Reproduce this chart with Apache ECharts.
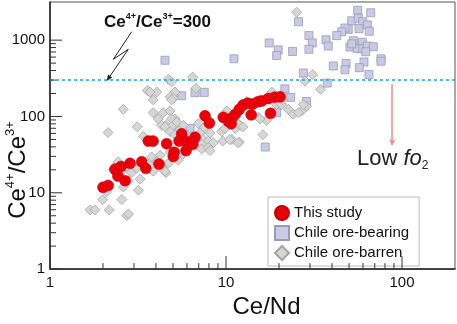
<!DOCTYPE html>
<html>
<head>
<meta charset="utf-8">
<script src="https://cdn.jsdelivr.net/npm/echarts@6/dist/echarts.min.js"></script>
<style>
  html, body { margin: 0; padding: 0; background: #fff; }
  #main { width: 457px; height: 324px; }
</style>
</head>
<body>
<div id="main"></div>
<script>
// Ce/Nd vs Ce4+/Ce3+ (log-log)
const thisStudy = [
  [2.0, 11.8], [2.14, 12.5], [2.34, 20.3], [2.53, 22.1], [2.43, 16.6], [2.67, 14.4],
  [2.85, 24.3], [3.32, 25.5], [3.5, 20.9], [3.62, 47.6], [3.85, 47.6], [4.16, 23.8],
  [4.6, 44.0], [5.07, 34.0], [5.02, 29.9], [5.41, 47.6], [5.6, 59.2], [5.93, 47.3],
  [5.93, 35.7], [6.67, 53.4], [6.47, 43.2], [7.6, 102], [8.04, 82], [9.65, 97.5],
  [10.3, 86.3], [10.7, 80.4], [10.8, 95.5], [11.3, 107], [11.9, 124], [12.5, 141],
  [13.3, 149], [14.2, 146], [15.2, 156], [16.0, 160], [17.4, 172], [18.9, 179],
  [20.3, 181], [13.9, 105], [17.9, 110]
];
const oreBearing = [
  [25.8, 1745], [56.0, 2461], [66.4, 2285], [51.8, 1795], [56.4, 1940], [59.8, 1745],
  [63.5, 1586], [57.0, 1415], [65.2, 1310], [49.5, 1387], [47.4, 1443], [45.4, 1288],
  [42.6, 1148], [29.6, 1148], [30.9, 920], [29.6, 759], [37.0, 1012], [38.1, 837],
  [52.9, 984], [50.6, 813], [59.5, 939], [55.7, 774], [59.8, 774], [63.5, 837],
  [68.7, 820], [62.2, 705], [76.0, 570], [76.0, 529], [40.7, 459], [48.1, 494],
  [47.4, 409], [60.8, 518], [57.2, 436], [64.9, 354], [23.9, 711], [27.5, 371],
  [37.6, 274], [17.6, 920], [19.8, 746], [19.4, 629], [4.5, 545], [11.1, 570],
  [5.6, 187], [6.67, 205], [7.52, 207], [21.6, 230], [23.3, 178], [19.4, 112],
  [28.7, 157], [16.7, 39.8], [6.25, 69.7], [51.8, 894]
];
const oreBarren = [
  [1.69, 5.97], [1.8, 5.97], [1.99, 8.11], [2.17, 5.97], [2.56, 8.18], [2.73, 5.02],
  [3.18, 10.8], [2.1, 10.3], [2.79, 5.28], [2.61, 11.9], [2.79, 14.4], [3.25, 15.1],
  [2.39, 23.2], [2.29, 20.1], [2.48, 18.3], [2.91, 18.3], [3.11, 21.1], [2.44, 25.5],
  [2.61, 20.1], [2.14, 61.6], [2.61, 124], [3.13, 73.1], [3.39, 54.9], [3.86, 112],
  [4.4, 112], [4.81, 118], [4.12, 92.9], [4.56, 76.6], [5.13, 92.9], [5.36, 69.7],
  [3.83, 26.8], [4.22, 31.0], [4.31, 22.1], [4.56, 18.3], [4.81, 34.0], [5.48, 29.5],
  [3.57, 219], [6.47, 328], [4.7, 307], [4.91, 284], [5.13, 209], [4.81, 181],
  [4.04, 209], [25.2, 2323], [28.1, 292], [31.1, 354], [34.5, 226], [28.7, 136],
  [26.9, 118], [6.75, 234], [5.02, 173], [4.91, 92.9], [5.25, 84.4], [4.91, 73.1],
  [5.43, 66.4], [5.72, 76.6], [6.96, 80.4], [7.43, 69.7], [7.12, 60.4], [8.11, 60.4],
  [7.43, 49.8], [7.93, 47.6], [8.47, 45.3], [7.28, 43.2], [7.28, 37.4], [7.93, 39.3],
  [8.11, 35.7], [9.58, 47.6], [10.8, 49.8], [11.9, 46.2], [9.45, 63.4], [9.87, 69.7],
  [10.1, 118], [12.0, 76.6], [15.3, 97.5], [17.0, 88.4], [16.2, 57.5], [18.2, 209],
  [19.4, 143], [20.7, 143], [22.6, 124], [24.1, 107], [25.8, 112], [21.0, 165],
  [4.31, 76.6], [4.5, 73.1], [4.81, 63.4], [5.13, 57.5], [3.86, 165], [4.91, 165],
  [5.98, 57.5], [3.78, 29.5], [4.04, 25.5], [3.86, 19.2], [4.5, 19.2], [4.22, 22.1],
  [4.7, 24.3], [5.36, 26.8], [5.36, 32.4], [10.3, 88.4], [10.5, 49.8], [11.7, 45.3],
  [11.3, 69.7], [11.7, 80.4], [12.5, 73.1], [15.6, 92.9], [12.0, 124], [13.1, 157],
  [27.5, 143], [15.6, 165], [3.7, 209]
];
const refRatio = 300;
const lowFo2Arrow = [[88, 265], [88, 42]];

// tick values (log axes)
const xMajorTicks = [1, 10, 100];
const xMinorTicks = [2, 3, 4, 5, 6, 7, 8, 9, 20, 30, 40, 50, 60, 70, 80, 90];
const yMajorTicks = [1, 10, 100, 1000];
const yMinorTicks = [2, 3, 4, 5, 6, 7, 8, 9, 20, 30, 40, 50, 60, 70, 80, 90,
  200, 300, 400, 500, 600, 700, 800, 900];
const xMin = 1, xMax = 200, yMin = 1, yMax = 3162;

const font = "'Liberation Sans', Arial, sans-serif";
const chart = echarts.init(document.getElementById('main'));

const axisCommon = {
  type: 'log',
  logBase: 10,
  axisLine: { show: true, onZero: false, lineStyle: { color: '#222', width: 1.5 } },
  axisTick: { show: false },
  minorTick: { show: false },
  axisLabel: {
    fontFamily: font, fontSize: 15, color: '#111',
    showMaxLabel: false,
    formatter: v => String(v)
  },
  splitLine: { show: false }
};

// tick marks drawn through the axis scales: [x, y, direction, length]
const tickData = []
  .concat(xMajorTicks.map(v => [v, yMin, 0, 13]))
  .concat(xMinorTicks.map(v => [v, yMin, 0, 6]))
  .concat(yMajorTicks.map(v => [xMin, v, 1, 12]))
  .concat(yMinorTicks.map(v => [xMin, v, 1, 6]));

const option = {
  animation: false,
  grid: { left: 50, right: 2, top: 2, bottom: 41, show: true, borderColor: '#555', borderWidth: 1 },
  xAxis: Object.assign({}, axisCommon, {
    min: xMin, max: xMax,
    axisLabel: Object.assign({}, axisCommon.axisLabel, { margin: 6 }),
    name: 'Ce/Nd',
    nameLocation: 'middle',
    nameGap: 22,
    nameTextStyle: { fontFamily: font, fontSize: 24, color: '#111', padding: [0, 0, 0, 28] }
  }),
  yAxis: Object.assign({}, axisCommon, {
    min: yMin, max: yMax,
    axisLabel: Object.assign({}, axisCommon.axisLabel, { margin: 5 })
  }),
  legend: {
    orient: 'vertical',
    left: 268, top: 197,
    padding: [8, 10, 5, 6],
    itemGap: 4,
    itemWidth: 14, itemHeight: 14,
    backgroundColor: '#fff',
    borderColor: '#bbb', borderWidth: 1,
    textStyle: { fontFamily: font, fontSize: 15, color: '#111' },
    data: ['This study', 'Chile ore-bearing', 'Chile ore-barren']
  },
  series: [
    {
      name: 'This study', type: 'scatter', z: 5,
      symbol: 'circle', symbolSize: 11,
      itemStyle: { color: '#e8000c', borderColor: '#c00000', borderWidth: 0.5, opacity: 1 },
      data: thisStudy
    },
    {
      name: 'Chile ore-bearing', type: 'scatter', z: 2,
      symbol: 'rect', symbolSize: 8,
      itemStyle: { color: '#cacae4', borderColor: '#9a9aba', borderWidth: 0.8, opacity: 1 },
      data: oreBearing
    },
    {
      name: 'Chile ore-barren', type: 'scatter', z: 3,
      symbol: 'diamond', symbolSize: 10,
      itemStyle: { color: '#d6d6d6', borderColor: '#a4a4a4', borderWidth: 0.8, opacity: 1 },
      data: oreBarren,
      markLine: {
        silent: true,
        symbol: 'none',
        label: { show: false },
        data: [
          {
            yAxis: refRatio,
            lineStyle: { color: '#1aa7d8', type: [3, 3], width: 1.5 }
          },
          [
            { coord: lowFo2Arrow[0], symbol: 'none' },
            { coord: lowFo2Arrow[1], symbol: 'arrow', symbolSize: [5, 6] }
          ]
        ],
        lineStyle: { color: '#f08a8a', type: 'solid', width: 1.5 }
      }
    },
    {
      name: 'ticks', type: 'custom', z: 6, silent: true,
      encode: { x: 0, y: 1 },
      data: tickData,
      renderItem: (params, api) => {
        const p = api.coord([api.value(0), api.value(1)]);
        const len = api.value(3);
        const vertical = api.value(2) === 0;
        return {
          type: 'line',
          shape: vertical
            ? { x1: p[0], y1: p[1], x2: p[0], y2: p[1] - len }
            : { x1: p[0], y1: p[1], x2: p[0] + len, y2: p[1] },
          style: { stroke: '#333', lineWidth: 1 }
        };
      }
    }
  ],
  graphic: [
    {
      type: 'text', left: 104, top: 12, z: 10,
      style: {
        text: '{b|Ce}{s|4+}{b|/Ce}{s|3+}{b|=300}',
        rich: {
          b: { fontFamily: font, fontSize: 17, fontWeight: 'bold', fill: '#111', lineHeight: 20 },
          s: { fontFamily: font, fontSize: 9, fontWeight: 'bold', fill: '#111', verticalAlign: 'top', lineHeight: 10 }
        }
      }
    },
    {
      type: 'polyline', z: 10,
      shape: { points: [[131.7, 31.7], [113.3, 59.3], [128.3, 49.3], [108.5, 78.3]] },
      style: { stroke: '#222', lineWidth: 1, fill: null }
    },
    {
      type: 'polygon', z: 10,
      shape: { points: [[106.7, 81], [112.2, 77.4], [108.0, 74.6]] },
      style: { fill: '#222' }
    },
    {
      type: 'text', left: 357, top: 148, z: 10,
      style: {
        text: '{n|Low }{i|fo}{u|2}',
        rich: {
          n: { fontFamily: font, fontSize: 22, fill: '#222', lineHeight: 26 },
          i: { fontFamily: font, fontSize: 22, fontStyle: 'italic', fill: '#222', lineHeight: 26 },
          u: { fontFamily: font, fontSize: 12, fill: '#222', verticalAlign: 'bottom', lineHeight: 12 }
        }
      }
    },
    {
      type: 'text', x: 18, y: 170, rotation: Math.PI / 2, z: 10,
      style: {
        text: '{b|Ce}{s|4+}{b|/Ce}{s|3+}',
        align: 'center', verticalAlign: 'middle',
        rich: {
          b: { fontFamily: font, fontSize: 24, fill: '#111', lineHeight: 28 },
          s: { fontFamily: font, fontSize: 13, fill: '#111', verticalAlign: 'top', lineHeight: 14 }
        }
      }
    }
  ]
};

chart.setOption(option);
</script>
</body>
</html>
